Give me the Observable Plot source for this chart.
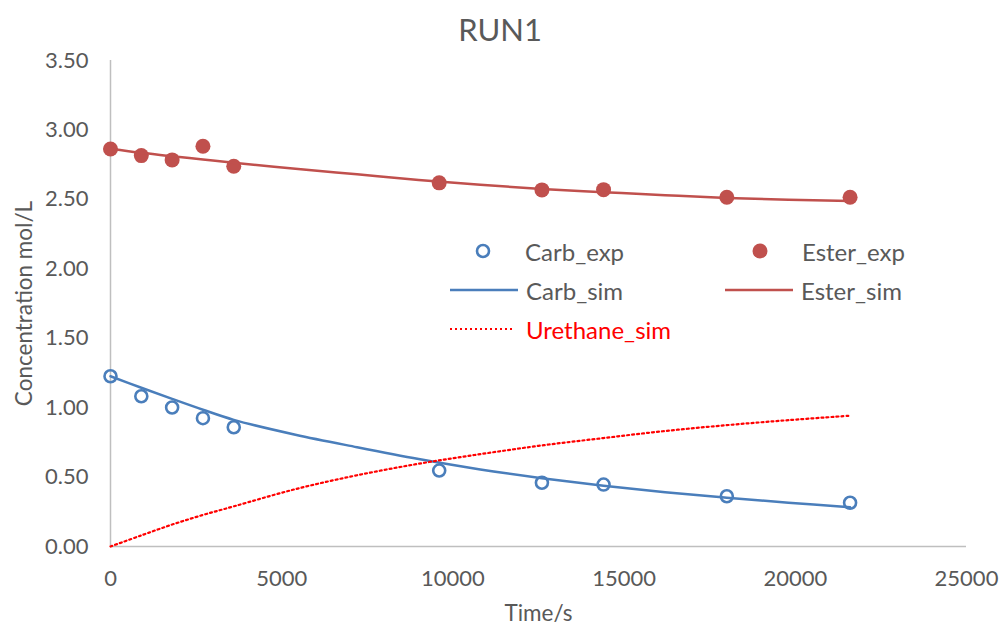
<!DOCTYPE html>
<html>
<head>
<meta charset="utf-8">
<script src="https://cdn.jsdelivr.net/npm/d3@7"></script>
<script src="https://cdn.jsdelivr.net/npm/@observablehq/plot@0.6"></script>
<style>
  html, body { margin: 0; padding: 0; background: #fff; }
  body { width: 1000px; height: 630px; position: relative; overflow: hidden; font-family: Lato, "Open Sans", sans-serif; }
  #title { height: 40px; width: 1000px; text-align: center; font-size: 31px; line-height: 58px; color: #595959; position: relative; z-index: 2; }
  #chart svg { overflow: visible; }
  #chart svg [aria-label="x-axis label"] text, #chart svg [aria-label="y-axis label"] text { font-size: 22.5px; }
  .leg { position: absolute; display: flex; align-items: center; font-size: 24px; color: #595959; height: 26px; }
  .leg svg { margin-right: 7px; }
</style>
</head>
<body>
<div id="title">RUN1</div>
<div id="chart"></div>
<div id="legend"></div>
<script>
// Experimental times (s)
const expTime = [0, 900, 1800, 2700, 3600, 9600, 12600, 14400, 18000, 21600];
const carbExp = [1.226, 1.082, 1.001, 0.924, 0.859, 0.547, 0.459, 0.446, 0.362, 0.315];
const esterExp = [2.863, 2.815, 2.784, 2.882, 2.738, 2.619, 2.568, 2.570, 2.515, 2.515];

// Simulation times (s)
const simTime = [0, 900, 1800, 2700, 3600, 5400, 7200, 9000, 10800, 12600, 14400, 16200, 18000, 19800, 21600];
const carbSim = [1.226, 1.143, 1.063, 0.985, 0.912, 0.805, 0.715, 0.630, 0.555, 0.492, 0.437, 0.390, 0.351, 0.315, 0.283];
const esterSim = [2.865, 2.835, 2.810, 2.787, 2.763, 2.720, 2.680, 2.640, 2.605, 2.575, 2.552, 2.530, 2.510, 2.497, 2.488];
const urethaneSim = [0, 0.080, 0.158, 0.227, 0.289, 0.413, 0.513, 0.596, 0.665, 0.728, 0.781, 0.832, 0.874, 0.910, 0.942];

const xTicks = [0, 5000, 10000, 15000, 20000, 25000];
const yTicks = [0, 0.5, 1, 1.5, 2, 2.5, 3, 3.5];

const BLUE = "#4a7ebb", RED = "#c0504d", URED = "#ff0000", GREY = "#595959", AXIS = "#bfbfbf";

const expRows = expTime.map((t, i) => ({t, carb: carbExp[i], ester: esterExp[i]}));
const simRows = simTime.map((t, i) => ({t, carb: carbSim[i], ester: esterSim[i], ure: urethaneSim[i]}));

const plot = Plot.plot({
  width: 1000,
  height: 590,
  marginTop: 20,
  marginLeft: 110,
  marginRight: 34,
  marginBottom: 84,
  style: {fontFamily: "Lato, 'Open Sans', sans-serif", fontSize: "22px", color: GREY, background: "transparent", overflow: "visible"},
  x: {domain: [0, 25000]},
  y: {domain: [0, 3.5]},
  marks: [
    Plot.ruleX([0], {stroke: AXIS, strokeWidth: 1.5}),
    Plot.ruleY([0], {stroke: AXIS, strokeWidth: 1.5}),
    Plot.axisY({ticks: yTicks, tickFormat: d3.format(".2f"), tickSize: 0, tickPadding: 22,
      label: "Concentration mol/L", labelAnchor: "center", labelArrow: "none", labelOffset: 94, fontSize: 22}),
    Plot.axisX({ticks: xTicks, tickFormat: d => String(d), tickSize: 0, tickPadding: 24,
      label: "Time/s", labelAnchor: "center", labelArrow: "none", labelOffset: 74, fontSize: 22}),
    Plot.dot(expRows, {x: "t", y: "carb", r: 6, stroke: BLUE, strokeWidth: 2.6, fill: "none"}),
    Plot.dot(expRows, {x: "t", y: "ester", r: 7.5, fill: RED, stroke: "none"}),
    Plot.line(simRows, {x: "t", y: "carb", stroke: BLUE, strokeWidth: 2.5, curve: "catmull-rom"}),
    Plot.line(simRows, {x: "t", y: "ester", stroke: RED, strokeWidth: 2.5, curve: "catmull-rom"}),
    Plot.line(simRows, {x: "t", y: "ure", stroke: URED, strokeWidth: 2.2, strokeDasharray: "2,3", curve: "catmull-rom"})
  ]
});
document.getElementById("chart").appendChild(plot);

// Legend (HTML overlay)
const legendItems = [
  {label: "Carb_exp", kind: "ring", color: BLUE, text: GREY, left: 472, top: 238},
  {label: "Ester_exp", kind: "disc", color: RED, text: GREY, left: 749, top: 238},
  {label: "Carb_sim", kind: "line", color: BLUE, text: GREY, left: 450, top: 277},
  {label: "Ester_sim", kind: "line", color: RED, text: GREY, left: 725, top: 277},
  {label: "Urethane_sim", kind: "dots", color: URED, text: URED, left: 450, top: 316}
];
const leg = document.getElementById("legend");
for (const it of legendItems) {
  const d = document.createElement("div");
  d.className = "leg";
  d.style.left = it.left + "px";
  d.style.top = it.top + "px";
  d.style.color = it.text;
  let sym;
  if (it.kind === "ring") sym = `<svg width="22" height="26"><circle cx="11" cy="13" r="6" fill="none" stroke="${it.color}" stroke-width="2.6"/></svg>`;
  else if (it.kind === "disc") sym = `<svg width="22" height="26"><circle cx="11" cy="13" r="7.5" fill="${it.color}"/></svg>`;
  else if (it.kind === "line") sym = `<svg width="69" height="26"><line x1="0" x2="68" y1="13" y2="13" stroke="${it.color}" stroke-width="2.5"/></svg>`;
  else sym = `<svg width="69" height="26"><line x1="0" x2="63" y1="13" y2="13" stroke="${it.color}" stroke-width="2.2" stroke-dasharray="2,3"/></svg>`;
  d.innerHTML = sym + `<span>${it.label}</span>`;
  if (it.kind === "ring" || it.kind === "disc") d.querySelector("svg").style.marginRight = "31px";
  leg.appendChild(d);
}
</script>
</body>
</html>
